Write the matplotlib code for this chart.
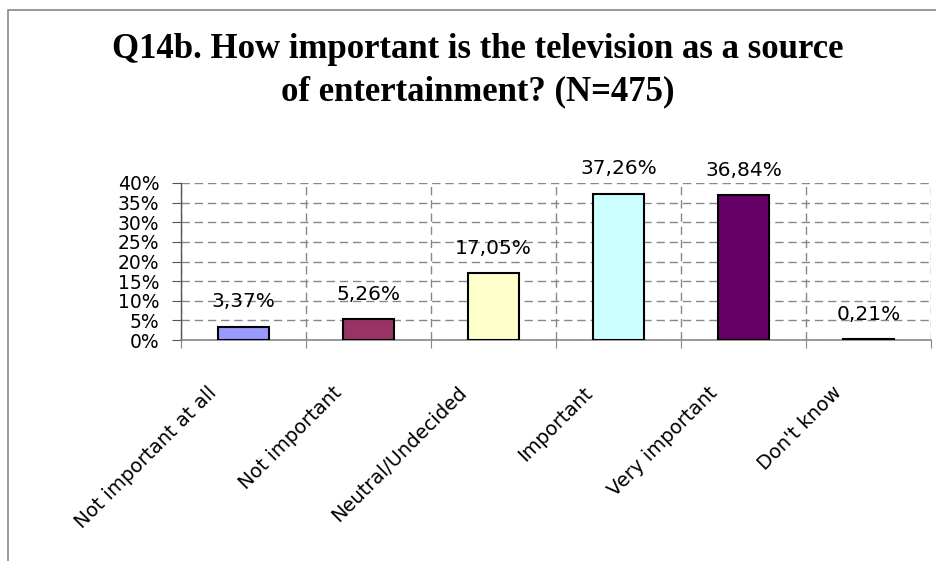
import matplotlib
matplotlib.use("Agg")
import matplotlib.pyplot as plt
from matplotlib.patches import Rectangle
from matplotlib.ticker import MultipleLocator, FuncFormatter

categories = ["Not important at all", "Not important", "Neutral/Undecided",
              "Important", "Very important", "Don't know"]
values = [3.37, 5.26, 17.05, 37.26, 36.84, 0.21]
value_labels = ["3,37%", "5,26%", "17,05%", "37,26%", "36,84%", "0,21%"]
colors = ["#9999FF", "#993366", "#FFFFCC", "#CCFFFF", "#660066", "#FF8080"]
title_lines = ["Q14b. How important is the television as a source",
               "of entertainment? (N=475)"]

W, H = 936, 561
fig = plt.figure(figsize=(W / 100, H / 100), dpi=100)
fig.patch.set_facecolor("white")

# chart border (extends beyond right/bottom edges)
fig.patches.append(Rectangle((8 / W, -0.05), 1.2, 1 - 10 / H + 0.05,
                             transform=fig.transFigure, fill=False,
                             edgecolor="#888888", linewidth=1.2))

ax = fig.add_axes([181 / W, 1 - 340 / H, (931 - 181) / W, (340 - 183) / H])
x = list(range(len(categories)))
ax.bar(x, values, width=0.41, color=colors, edgecolor="black", linewidth=1.5, zorder=3)
ax.set_xlim(-0.5, len(categories) - 0.5)
ax.set_ylim(0, 40)

ax.yaxis.set_major_locator(MultipleLocator(5))
ax.yaxis.set_major_formatter(FuncFormatter(lambda v, p: f"{int(v)}%"))
ax.set_xticks([i + 0.5 for i in range(-1, len(categories))])
ax.set_xticklabels([])
ax.tick_params(axis="x", direction="out", length=6, color="#888888")
ax.tick_params(axis="y", direction="out", length=6.5, color="#555555",
               labelsize=13.5, pad=9)
for lab in ax.get_yticklabels():
    lab.set_fontfamily("DejaVu Sans")

ax.grid(True, axis="both", linestyle=(0, (6, 3.5)), color="#888888", linewidth=1.0, zorder=0)
for s in ["top", "right"]:
    ax.spines[s].set_visible(False)
ax.spines["left"].set_color("#555555")
ax.spines["bottom"].set_color("#888888")
ax.spines["left"].set_linewidth(1.0)
ax.spines["bottom"].set_linewidth(1.2)

# value labels
for i, (v, t) in enumerate(zip(values, value_labels)):
    ax.annotate(t, (i, v), xytext=(0, 11), textcoords="offset points",
                ha="center", va="bottom", fontsize=14.5, color="black",
                fontfamily="DejaVu Sans")

# category labels rotated
for i, c in enumerate(categories):
    ax.annotate(c, (i, 0), xytext=(-26, -31), textcoords="offset points",
                ha="right", va="top", rotation=45, rotation_mode="anchor",
                fontsize=14, fontfamily="DejaVu Sans")

for k, line in enumerate(title_lines):
    fig.text(478 / W, 1 - (58 + 42 * k) / H, line, ha="center", va="baseline",
             fontsize=25, fontweight="bold", fontfamily="Liberation Serif")

fig.savefig("out.png", dpi=100)
